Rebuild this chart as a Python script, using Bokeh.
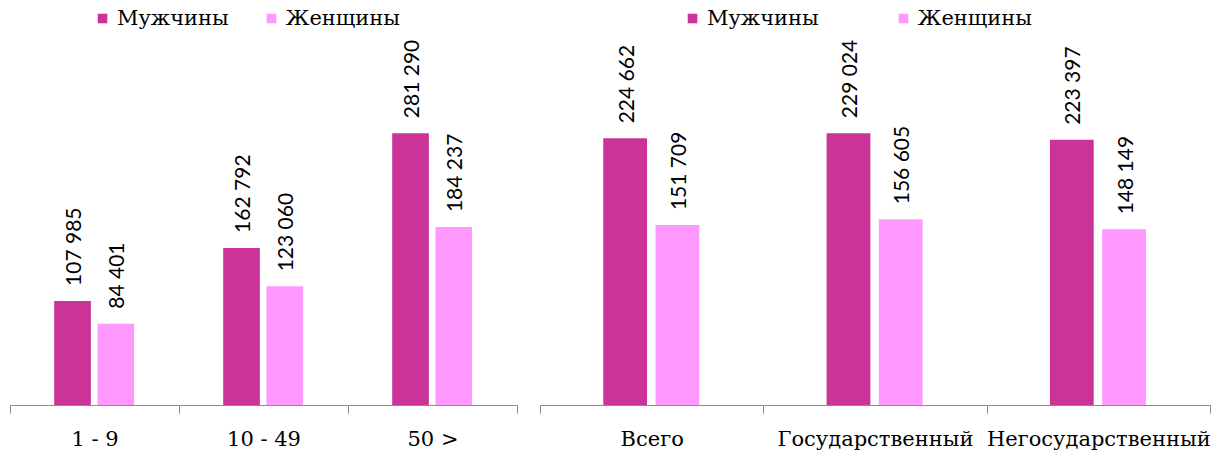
from bokeh.plotting import figure
from bokeh.models import Range1d, FixedTicker, Legend, LegendItem, ColumnDataSource
from bokeh.layouts import row
from bokeh.transform import dodge
from bokeh.core.properties import value
from bokeh.embed import file_html
from bokeh.resources import INLINE
import math

# ---- data ----
cats_size = ["1 - 9", "10 - 49", "50 >"]
men_size = [107985, 162792, 281290]
women_size = [84401, 123060, 184237]

cats_own = ["Всего", "Государственный", "Негосударственный"]
men_own = [224662, 229024, 223397]
women_own = [151709, 156605, 148149]

MEN_COLOR = "#CC3399"
WOMEN_COLOR = "#FF99FF"
SERIF = "DejaVu Serif"
SANS = "Lato"


def fmt(v):
    return f"{v:,}".replace(",", " ")


def panel(cats, men, women, width, ymax, bar_w, off_m, off_w, leg_x, leg_spacing,
          min_left, min_right):
    idx = [i + 0.5 for i in range(len(cats))]
    src = ColumnDataSource(dict(x=idx, men=men, women=women,
                                men_lbl=[fmt(v) for v in men],
                                women_lbl=[fmt(v) for v in women]))
    p = figure(width=width, height=453, x_range=Range1d(0, len(cats)),
               y_range=Range1d(0, ymax), output_backend="svg",
               toolbar_location=None, min_border_left=min_left, min_border_right=min_right,
               min_border_top=0, min_border_bottom=47, outline_line_color=None)
    p.xgrid.visible = False
    p.ygrid.visible = False
    p.yaxis.visible = False

    rm = p.vbar(x=dodge("x", off_m), top="men", width=bar_w, source=src,
                fill_color=MEN_COLOR, line_color=None)
    rw = p.vbar(x=dodge("x", off_w), top="women", width=bar_w, source=src,
                fill_color=WOMEN_COLOR, line_color=None)

    for col, lbl, off in (("men", "men_lbl", off_m), ("women", "women_lbl", off_w)):
        p.text(x=dodge("x", off), y=col, text=lbl, source=src, angle=math.pi / 2,
               text_align="left", text_baseline="middle", y_offset=-15,
               text_font=value(SANS), text_font_size="21px", text_color="#000000")

    ax = p.xaxis[0]
    ax.ticker = FixedTicker(ticks=idx, minor_ticks=list(range(len(cats) + 1)))
    ax.major_label_overrides = {i + 0.5: c for i, c in enumerate(cats)}
    ax.major_tick_line_color = None
    ax.major_tick_out = 0
    ax.major_tick_in = 0
    ax.minor_tick_in = 0
    ax.minor_tick_out = 8
    ax.minor_tick_line_color = "#8C8C8C"
    ax.axis_line_color = "#8C8C8C"
    ax.major_label_standoff = 13
    ax.major_label_text_font = SERIF
    ax.major_label_text_font_size = "21px"
    ax.major_label_text_color = "#000000"

    legend = Legend(items=[LegendItem(label="Мужчины", renderers=[rm]),
                           LegendItem(label="Женщины", renderers=[rw])],
                    orientation="horizontal", location=(leg_x, 374),
                    padding=0, margin=0, spacing=leg_spacing,
                    glyph_width=12, glyph_height=12, label_standoff=9,
                    label_height=26,
                    label_text_font=SERIF, label_text_font_size="21px",
                    label_text_color="#000000",
                    border_line_color=None, background_fill_alpha=0)
    p.add_layout(legend)
    return p


p1 = panel(cats_size, men_size, women_size, 538, 418300, 0.217, -0.133, 0.123, 86, 36, 10, 21)
p2 = panel(cats_own, men_own, women_own, 674, 340600, 0.196, -0.121, 0.113, 146, 78, 2, 2)

layout = row(p1, p2, spacing=0)
open("out.html", "w").write(file_html(layout, INLINE))
